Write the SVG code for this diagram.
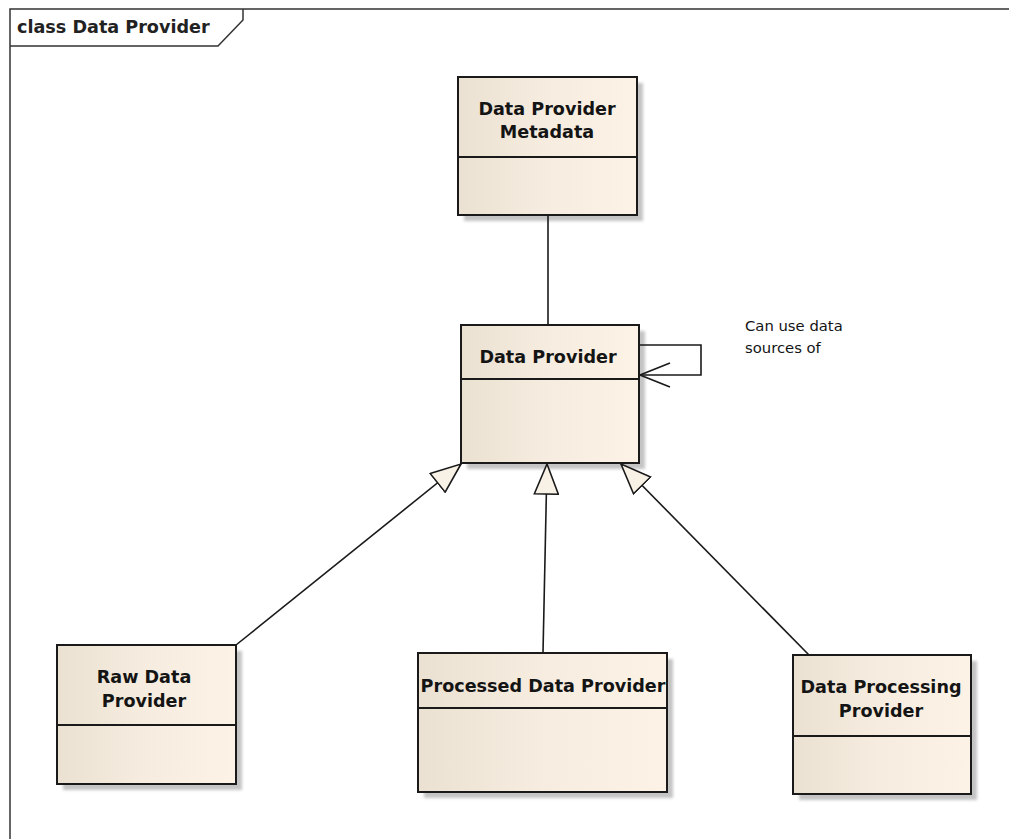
<svg xmlns="http://www.w3.org/2000/svg" width="1009" height="839" viewBox="0 0 1009 839">
<style>
  .frame{fill:none;stroke:#333;stroke-width:1.5}
  .box{fill:url(#bg);stroke:#1a1a1a;stroke-width:2}
  .shadow{fill:#c4c4c4;filter:url(#blur)}
  .div{stroke:#1a1a1a;stroke-width:2}
  .name{font-family:"DejaVu Sans",Verdana,sans-serif;font-weight:bold;font-size:17.6px;fill:#141414;text-anchor:middle}
  .note{font-family:"DejaVu Sans",Verdana,sans-serif;font-size:14.8px;fill:#141414}
  .title{font-family:"DejaVu Sans",Verdana,sans-serif;font-weight:bold;font-size:17.6px;fill:#222}
  .edge{fill:none;stroke:#1a1a1a;stroke-width:1.6}
</style>
<defs>
  <linearGradient id="bg" x1="0" y1="0" x2="1" y2="0">
    <stop offset="0" stop-color="#ebe1d2"/>
    <stop offset="0.5" stop-color="#f6ede0"/>
    <stop offset="1" stop-color="#fcf3e6"/>
  </linearGradient>
  <filter id="blur" x="-10%" y="-10%" width="120%" height="120%">
    <feGaussianBlur stdDeviation="1.5"/>
  </filter>
  <marker id="gen" viewBox="0 0 32 26" refX="31" refY="13" markerWidth="32" markerHeight="26" orient="auto" markerUnits="userSpaceOnUse">
    <path d="M1,1 L31,13 L1,25 Z" fill="#f8f1e6" stroke="#1a1a1a" stroke-width="1.6"/>
  </marker>
  <marker id="open" viewBox="0 0 32 26" refX="31" refY="13" markerWidth="32" markerHeight="26" orient="auto" markerUnits="userSpaceOnUse">
    <path d="M1,1 L31,13 L1,25" fill="none" stroke="#1a1a1a" stroke-width="1.6"/>
  </marker>
</defs>
<rect width="1009" height="839" fill="#ffffff"/>

<g id="frame">
  <path class="frame" d="M1009,9 L10,9 L10,839"/>
  <path class="frame" d="M10,46 L218,46 L243,20 L243,9"/>
  <text class="title" x="17" y="33">class Data Provider</text>
</g>

<g id="metadata">
  <rect class="shadow" x="464" y="83" width="179" height="138"/>
  <rect class="box" x="458" y="77" width="179" height="138"/>
  <line class="div" x1="458" y1="157" x2="637" y2="157"/>
  <text class="name" x="547" y="115">Data Provider</text>
  <text class="name" x="547" y="138">Metadata</text>
</g>

<g id="dataprovider">
  <rect class="shadow" x="467" y="331" width="178" height="138"/>
  <rect class="box" x="461" y="325" width="178" height="138"/>
  <line class="div" x1="461" y1="379" x2="639" y2="379"/>
  <text class="name" x="548" y="363">Data Provider</text>
</g>

<g id="raw">
  <rect class="shadow" x="63" y="651" width="179" height="139"/>
  <rect class="box" x="57" y="645" width="179" height="139"/>
  <line class="div" x1="57" y1="725" x2="236" y2="725"/>
  <text class="name" x="144" y="683">Raw Data</text>
  <text class="name" x="144" y="707">Provider</text>
</g>

<g id="processed">
  <rect class="shadow" x="424" y="659" width="249" height="139"/>
  <rect class="box" x="418" y="653" width="249" height="139"/>
  <line class="div" x1="418" y1="708" x2="667" y2="708"/>
  <text class="name" x="543" y="692">Processed Data Provider</text>
</g>

<g id="processing">
  <rect class="shadow" x="799" y="661" width="178" height="139"/>
  <rect class="box" x="793" y="655" width="178" height="139"/>
  <line class="div" x1="793" y1="736" x2="971" y2="736"/>
  <text class="name" x="881" y="693">Data Processing</text>
  <text class="name" x="881" y="717">Provider</text>
</g>

<g id="connectors">
  <line class="edge" x1="548" y1="216" x2="548" y2="324"/>
  <path class="edge" d="M640,345 L701,345 L701,375 L640,375" marker-end="url(#open)"/>
  <line class="edge" x1="236" y1="645" x2="461" y2="464" marker-end="url(#gen)"/>
  <line class="edge" x1="543" y1="653" x2="547" y2="464" marker-end="url(#gen)"/>
  <line class="edge" x1="809" y1="655" x2="621" y2="464" marker-end="url(#gen)"/>
  <text class="note" x="745" y="331">Can use data</text>
  <text class="note" x="745" y="353">sources of</text>
</g>
</svg>
